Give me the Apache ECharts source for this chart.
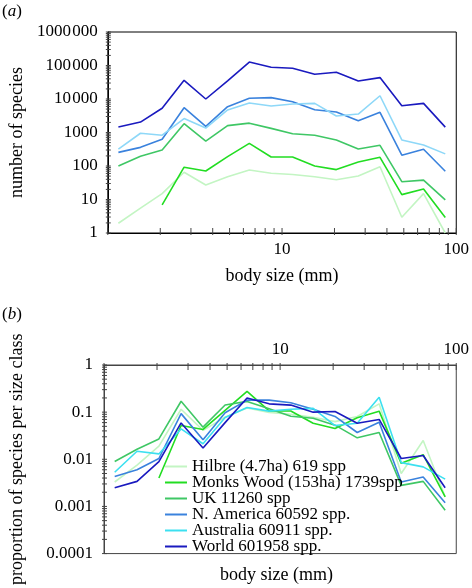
<!DOCTYPE html>
<html>
<head>
<meta charset="utf-8">
<script src="https://cdn.jsdelivr.net/npm/echarts@6/dist/echarts.min.js"></script>
<style>
html,body{margin:0;padding:0;background:#fff;}
#chart{width:472px;height:588px;}
</style>
</head>
<body>
<div id="chart"></div>
<script>
// body size classes (mm)
var sizeClasses = [1.15, 1.54, 2.05, 2.74, 3.65, 4.87, 6.49, 8.66, 11.5, 15.4, 20.5, 27.4, 36.5, 48.7, 64.9, 86.5];
var seriesNames = ['Hilbre (4.7ha) 619 spp', 'Monks Wood (153ha) 1739spp', 'UK 11260 spp', 'N. America 60592 spp.', 'Australia 60911 spp.', 'World 601958 spp.'];

// (a) number of species
var countHilbre = [1.95, 5.5, 15, 65, 27, 48, 76, 61, 56, 48, 39, 50, 95, 2.95, 15, 1];
var countMonks = [null, null, 6.9, 92, 71, 190, 475, 185, 185, 100, 78, 132, 182, 14, 20.6, 2.9];
var countUK = [100, 195, 300, 1830, 550, 1600, 1900, 1330, 920, 830, 600, 320, 415, 34, 38, 9.7];
var countNAmerica = [255, 360, 630, 5500, 1520, 5900, 10500, 11000, 8300, 4800, 4100, 2250, 4000, 210, 315, 70];
var countAustralia = [320, 950, 830, 2600, 1360, 4700, 7600, 6200, 7100, 7400, 3100, 3550, 12500, 600, 425, 230];
var countWorld = [1450, 2050, 5300, 36000, 10000, 35000, 127000, 89000, 83000, 55000, 63000, 34500, 43500, 6300, 7400, 1450];

// (b) proportion of species per size class
var propHilbre = [0.0033, 0.0075, 0.019, 0.115, 0.041, 0.078, 0.123, 0.099, 0.09, 0.078, 0.063, 0.081, 0.15, 0.005, 0.025, 0.0016];
var propMonks = [null, null, 0.004, 0.052, 0.043, 0.109, 0.275, 0.106, 0.106, 0.058, 0.045, 0.076, 0.105, 0.0082, 0.0125, 0.0016];
var propUK = [0.009, 0.0163, 0.027, 0.17, 0.048, 0.142, 0.169, 0.118, 0.082, 0.074, 0.053, 0.0285, 0.037, 0.0028, 0.0034, 0.00083];
var propNAmerica = [0.0043, 0.006, 0.0104, 0.093, 0.026, 0.097, 0.18, 0.18, 0.158, 0.115, 0.081, 0.037, 0.061, 0.0033, 0.0042, 0.0012];
var propAustralia = [0.0053, 0.0148, 0.013, 0.044, 0.0214, 0.077, 0.125, 0.105, 0.115, 0.12, 0.052, 0.058, 0.208, 0.0085, 0.0069, 0.0038];
var propWorld = [0.0025, 0.0034, 0.0089, 0.059, 0.0174, 0.06, 0.20, 0.15, 0.141, 0.10, 0.103, 0.058, 0.070, 0.0104, 0.012, 0.0025];

// tick label values
var xLabelValues = [10, 100];
var yTopLabelValues = [1, 10, 100, 1000, 10000, 100000, 1000000];
var yBotLabelValues = [0.0001, 0.001, 0.01, 0.1, 1];
var tickMultipliers = [1, 2, 3, 4, 5, 6, 7, 8, 9];

var colorsTop = ['#c3f5c3', '#22dd22', '#3fc765', '#3a82dd', '#8ed8f8', '#1a1abf'];
var colorsBot = ['#c3f5c3', '#22dd22', '#3fc765', '#3a82dd', '#3ce0f0', '#1a1abf'];

function tickValues(lo, hi) {
  var out = [];
  for (var e = lo; e < hi; e++) {
    tickMultipliers.forEach(function (k) { out.push(parseFloat((k * Math.pow(10, e)).toPrecision(6))); });
  }
  out.push(Math.pow(10, hi));
  return out;
}
function pairs(vals) {
  return sizeClasses.map(function (x, i) { return [x, vals[i]]; });
}
var FONT = 'Liberation Serif';
var countSets = [countHilbre, countMonks, countUK, countNAmerica, countAustralia, countWorld];
var propSets = [propHilbre, propMonks, propUK, propNAmerica, propAustralia, propWorld];

function fmtTop(v) {
  var s = String(Math.round(v));
  if (s.length >= 5) s = s.slice(0, s.length - 3) + '\u200A' + s.slice(s.length - 3);
  return s;
}
function fmtBot(v) {
  return String(parseFloat(Number(v).toPrecision(3)));
}

var series = [];
countSets.forEach(function (d, i) {
  series.push({
    type: 'line', name: seriesNames[i], xAxisIndex: 0, yAxisIndex: 0,
    data: pairs(d), showSymbol: false, symbol: 'none', connectNulls: false,
    lineStyle: { color: colorsTop[i], width: 1.6 }, itemStyle: { color: colorsTop[i] },
    emphasis: { disabled: true }
  });
});
propSets.forEach(function (d, i) {
  series.push({
    type: 'line', name: seriesNames[i], xAxisIndex: 1, yAxisIndex: 1,
    data: pairs(d), showSymbol: false, symbol: 'none', connectNulls: false,
    lineStyle: { color: colorsBot[i], width: 1.6 }, itemStyle: { color: colorsBot[i] },
    emphasis: { disabled: true }
  });
});

// axis tick marks drawn through the axes' own scales
function tickSeries(axisIdx, dir, data, a, b) {
  return {
    type: 'custom', xAxisIndex: axisIdx, yAxisIndex: axisIdx, silent: true, clip: false, z: 5,
    data: data,
    renderItem: function (params, api) {
      var p = api.coord([api.value(0), api.value(1)]);
      var shape = dir === 'x'
        ? { x1: p[0], y1: p[1] + a, x2: p[0], y2: p[1] + b }
        : { x1: p[0] + a, y1: p[1], x2: p[0] + b, y2: p[1] };
      return { type: 'line', shape: shape, style: { stroke: '#444', lineWidth: 1 } };
    }
  };
}
var xt = tickValues(0, 2);
series.push(tickSeries(0, 'x', xt.map(function (v) { return [v, 1]; }), 2, -5));
series.push(tickSeries(0, 'y', tickValues(0, 6).map(function (v) { return [1, v]; }), -2, 3));
series.push(tickSeries(1, 'x', xt.map(function (v) { return [v, 1]; }), -2, 5));
series.push(tickSeries(1, 'y', tickValues(-4, 0).map(function (v) { return [1, v]; }), -2, 3));

var option = {
  animation: false,
  backgroundColor: '#fff',
  textStyle: { fontFamily: FONT },
  grid: [
    { left: 97, top: 32, width: 360, height: 201, show: true, borderColor: '#000', borderWidth: 1, containLabel: false },
    { left: 99, top: 365, width: 358, height: 192, show: true, borderColor: '#444', borderWidth: 1, containLabel: false }
  ],
  xAxis: [
    {
      type: 'log', gridIndex: 0, min: 1, max: 100, logBase: 10, position: 'bottom',
      name: 'body size (mm)', nameLocation: 'middle', nameGap: 34,
      nameTextStyle: { fontFamily: FONT, fontSize: 18, color: '#000' },
      axisLine: { show: true, lineStyle: { color: '#000', width: 1 } },
      axisTick: { show: false },
      axisLabel: { show: true, customValues: xLabelValues, margin: 8, fontFamily: FONT, fontSize: 17, color: '#000' },
      splitLine: { show: false }, minorTick: { show: false }
    },
    {
      type: 'log', gridIndex: 1, min: 1, max: 100, logBase: 10, position: 'top',
      axisLine: { show: true, lineStyle: { color: '#444', width: 1 } },
      axisTick: { show: false },
      axisLabel: { show: true, customValues: xLabelValues, margin: 7, fontFamily: FONT, fontSize: 17, color: '#000' },
      splitLine: { show: false }, minorTick: { show: false }
    }
  ],
  yAxis: [
    {
      type: 'log', gridIndex: 0, min: 1, max: 1000000, logBase: 10,
      name: 'number of species', nameLocation: 'middle', nameGap: 76, nameRotate: 90,
      nameTextStyle: { fontFamily: FONT, fontSize: 18, color: '#000' },
      axisLine: { show: true, lineStyle: { color: '#000', width: 1 } },
      axisTick: { show: false },
      axisLabel: { show: true, customValues: yTopLabelValues, margin: 10, fontFamily: FONT, fontSize: 17, color: '#000', formatter: fmtTop },
      splitLine: { show: false }, minorTick: { show: false }
    },
    {
      type: 'log', gridIndex: 1, min: 0.0001, max: 1, logBase: 10,
      name: 'proportion of species per size class', nameLocation: 'middle', nameGap: 78, nameRotate: 90,
      nameTextStyle: { fontFamily: FONT, fontSize: 18, color: '#000' },
      axisLine: { show: true, lineStyle: { color: '#444', width: 1 } },
      axisTick: { show: false },
      axisLabel: { show: true, customValues: yBotLabelValues, margin: 11, fontFamily: FONT, fontSize: 17, color: '#000', formatter: fmtBot },
      splitLine: { show: false }, minorTick: { show: false }
    }
  ],
  legend: {
    orient: 'vertical', left: 160, top: 453,
    icon: 'rect', itemWidth: 22, itemHeight: 2, itemGap: -1,
    selectedMode: false,
    textStyle: { fontFamily: FONT, fontSize: 17, color: '#000', lineHeight: 16 },
    data: seriesNames.map(function (n, i) { return { name: n, itemStyle: { color: colorsBot[i] }, lineStyle: { color: colorsBot[i] } }; })
  },
  graphic: [
    { type: 'text', left: 2, top: 3, style: { text: '({i|a})', font: '17px "Liberation Serif"', fill: '#000', rich: { i: { fontStyle: 'italic', fontFamily: FONT, fontSize: 17 } } } },
    { type: 'text', left: 2, top: 306, style: { text: '({i|b})', font: '17px "Liberation Serif"', fill: '#000', rich: { i: { fontStyle: 'italic', fontFamily: FONT, fontSize: 17 } } } },
    { type: 'text', left: 220, top: 566, style: { text: 'body size (mm)', font: '18px "Liberation Serif"', fill: '#000' } }
  ],
  series: series
};

var chart = echarts.init(document.getElementById('chart'), null, { renderer: 'canvas' });
chart.setOption(option);
</script>
</body>
</html>
